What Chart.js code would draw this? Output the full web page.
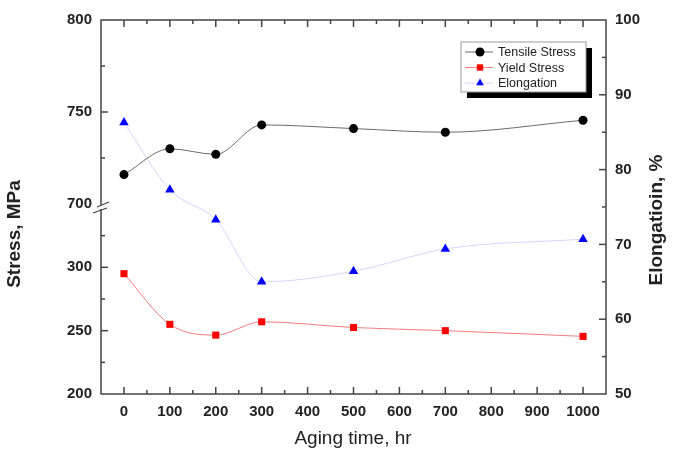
<!DOCTYPE html>
<html>
<head>
<meta charset="utf-8">
<script src="https://cdn.jsdelivr.net/npm/chart.js@4/dist/chart.umd.min.js"></script>
<style>
  body { margin: 0; background: #fff; }
  canvas { display: block; }
</style>
</head>
<body>
<canvas id="grafico" width="674" height="453"></canvas>
<script>
// dados
var agingTime = [0, 100, 200, 300, 500, 700, 1000];
var tensileStress = [716, 730, 727, 743, 741, 739, 745.5];
var yieldStress = [295, 255, 246.5, 257, 252.5, 250, 245.5];
var elongation = [86.3, 77.3, 73.3, 65.0, 66.4, 69.4, 70.7];

// rotulos dos eixos
var xTickLabels = [0, 100, 200, 300, 400, 500, 600, 700, 800, 900, 1000];
var upperTickLabels = [700, 750, 800];
var lowerTickLabels = [200, 250, 300];
var rightTickLabels = [50, 60, 70, 80, 90, 100];

var FONTE = '"Liberation Sans", Arial, sans-serif';
var COR_EIXO = '#444';

function pontos(xs, ys) {
    return xs.map(function (x, i) { return { x: x, y: ys[i] }; });
}

function soRotulos(lista) {
    return function (v) { return lista.indexOf(v) >= 0 ? String(v) : ''; };
}

// desenha moldura, ticks para dentro, quebra do eixo, titulos e legenda
var moldura = {
    id: 'moldura',
    afterDraw: function (chart) {
        var ctx = chart.ctx;
        var a = chart.chartArea;
        var s = chart.scales;
        ctx.save();
        ctx.strokeStyle = COR_EIXO;
        ctx.lineWidth = 1.5;
        ctx.strokeRect(a.left, a.top, a.right - a.left, a.bottom - a.top);

        function linha(x1, y1, x2, y2) {
            ctx.beginPath(); ctx.moveTo(x1, y1); ctx.lineTo(x2, y2); ctx.stroke();
        }
        s.x.ticks.forEach(function (t) {
            if (t.value <= s.x.min || t.value >= s.x.max) return;
            var px = s.x.getPixelForValue(t.value);
            var len = t.value % 100 === 0 ? 7 : 4;
            linha(px, a.bottom, px, a.bottom - len);
            linha(px, a.top, px, a.top + len);
        });
        [s.yUpper, s.yLower].forEach(function (sc) {
            sc.ticks.forEach(function (t) {
                if (t.value <= sc.min || t.value >= sc.max) return;
                var py = sc.getPixelForValue(t.value);
                var len = t.value % 50 === 0 ? 7 : 4;
                linha(a.left, py, a.left + len, py);
            });
        });
        s.yR.ticks.forEach(function (t) {
            if (t.value <= s.yR.min || t.value >= s.yR.max) return;
            var py = s.yR.getPixelForValue(t.value);
            var len = t.value % 10 === 0 ? 7 : 4;
            linha(a.right, py, a.right - len, py);
        });

        // quebra do eixo esquerdo
        var yb = s.yLower.top;
        ctx.fillStyle = '#fff';
        ctx.fillRect(a.left - 2, yb + 1, 4, 4);
        ctx.lineWidth = 1.3;
        linha(a.left - 4, yb + 3, a.left + 8, yb - 2);
        linha(a.left - 8, yb + 9, a.left + 6, yb + 4);

        // titulos
        ctx.fillStyle = '#222';
        ctx.textAlign = 'center';
        ctx.textBaseline = 'middle';
        ctx.font = 'bold 19px ' + FONTE;
        ctx.save();
        ctx.translate(15, 234);
        ctx.rotate(-Math.PI / 2);
        ctx.fillText('Stress, MPa', 0, 0);
        ctx.restore();
        ctx.save();
        ctx.translate(657, 220);
        ctx.rotate(-Math.PI / 2);
        ctx.fillText('Elongatioin, %', 0, 0);
        ctx.restore();
        ctx.font = '19px ' + FONTE;
        ctx.fillText('Aging time, hr', 353, 439);

        // legenda dentro do grafico
        var lx = a.right - 145, ly = a.top + 22, lw = 125, lh = 50;
        ctx.fillStyle = '#000';
        ctx.fillRect(lx + 6, ly + 6, lw, lh);
        ctx.fillStyle = '#fff';
        ctx.fillRect(lx, ly, lw, lh);
        ctx.strokeStyle = '#999';
        ctx.lineWidth = 1;
        ctx.strokeRect(lx, ly, lw, lh);
        ctx.textAlign = 'left';
        ctx.font = '12.5px ' + FONTE;
        chart.data.datasets.forEach(function (ds, i) {
            var yy = ly + 10 + i * 15.5;
            ctx.strokeStyle = ds.borderColor;
            ctx.lineWidth = 1;
            linha(lx + 4, yy, lx + 32, yy);
            ctx.fillStyle = ds.pointBackgroundColor;
            ctx.strokeStyle = ds.pointBackgroundColor;
            Chart.helpers.drawPoint(ctx, { pointStyle: ds.pointStyle, radius: 4.5, rotation: 0, borderWidth: 0 }, lx + 19, yy);
            ctx.fillStyle = '#222';
            ctx.fillText(ds.label, lx + 37, yy + 1);
        });
        ctx.restore();
    }
};

var eixoComum = {
    grid: { display: false, drawTicks: false },
    border: { display: false },
    ticks: { color: '#222', font: { family: FONTE, size: 15, weight: 'bold' }, padding: 9, autoSkip: false, maxRotation: 0, minRotation: 0 }
};

function eixo(extra) {
    var o = JSON.parse(JSON.stringify(eixoComum));
    for (var k in extra) {
        if (k === 'ticks') { Object.assign(o.ticks, extra.ticks); } else { o[k] = extra[k]; }
    }
    return o;
}

// a ordem importa: o eixo declarado primeiro na pilha fica embaixo
var escalas = {
    x: eixo({ type: 'linear', position: 'bottom', min: -50, max: 1050, ticks: { stepSize: 50 } }),
    yLower: eixo({ type: 'linear', position: 'left', stack: 'stress', stackWeight: 190, min: 200, max: 350, ticks: { stepSize: 25 } }),
    yUpper: eixo({ type: 'linear', position: 'left', stack: 'stress', stackWeight: 184, min: 700, max: 800, ticks: { stepSize: 25 } }),
    yR: eixo({ type: 'linear', position: 'right', min: 50, max: 100, ticks: { stepSize: 5 } })
};
escalas.x.ticks.callback = soRotulos(xTickLabels);
escalas.x.afterFit = function (sc) { sc.height = 59; };
escalas.yUpper.ticks.callback = soRotulos(upperTickLabels);
escalas.yUpper.afterFit = function (sc) { sc.width = 101; };
escalas.yLower.ticks.callback = soRotulos(lowerTickLabels);
escalas.yLower.afterFit = function (sc) { sc.width = 101; };
escalas.yR.ticks.callback = soRotulos(rightTickLabels);
escalas.yR.afterFit = function (sc) { sc.width = 68; };

var ctx = document.getElementById('grafico').getContext('2d');
var myChart = new Chart(ctx, {
    type: 'line',
    data: {
        datasets: [
            {
                label: 'Tensile Stress',
                data: pontos(agingTime, tensileStress),
                yAxisID: 'yUpper',
                borderColor: '#6a6a6a',
                borderWidth: 1,
                pointStyle: 'circle',
                pointRadius: 4.5,
                pointBackgroundColor: '#000',
                pointBorderWidth: 0,
                cubicInterpolationMode: 'monotone'
            },
            {
                label: 'Yield Stress',
                data: pontos(agingTime, yieldStress),
                yAxisID: 'yLower',
                borderColor: '#f27c7c',
                borderWidth: 1,
                pointStyle: 'rect',
                pointRadius: 5,
                pointBackgroundColor: '#f00',
                pointBorderWidth: 0,
                cubicInterpolationMode: 'monotone'
            },
            {
                label: 'Elongation',
                data: pontos(agingTime, elongation),
                yAxisID: 'yR',
                borderColor: '#d4d4ff',
                borderWidth: 1,
                pointStyle: 'triangle',
                pointRadius: 5.5,
                pointBackgroundColor: '#00f',
                pointBorderWidth: 0,
                cubicInterpolationMode: 'monotone'
            }
        ]
    },
    options: {
        responsive: false,
        devicePixelRatio: 1,
        animation: false,
        layout: { padding: { top: 20, left: 0, right: 0, bottom: 0 } },
        plugins: { legend: { display: false }, tooltip: { enabled: false } },
        scales: escalas
    },
    plugins: [moldura]
});
</script>
</body>
</html>
